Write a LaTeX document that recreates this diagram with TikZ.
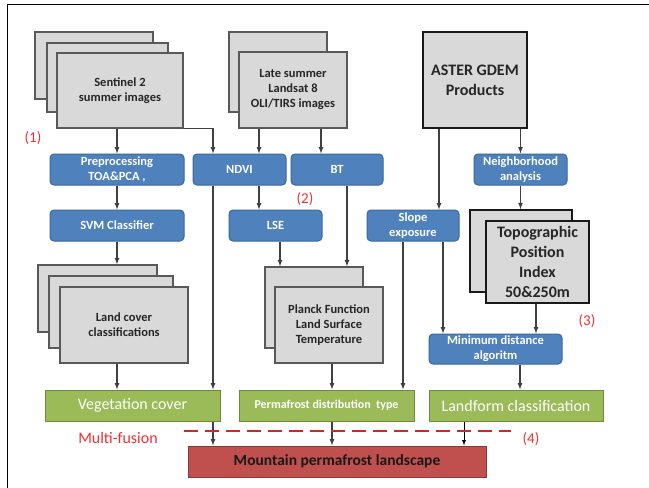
\documentclass[tikz,border=0pt]{standalone}
\usepackage{fontspec}
\setmainfont{Carlito}
\usepackage{xcolor}
\usepackage{tikz}
\usetikzlibrary{arrows}
\definecolor{sheetgray}{HTML}{D9D9D9}
\definecolor{sheetline}{HTML}{595959}
\definecolor{procblue}{HTML}{4F81BD}
\definecolor{procline}{HTML}{3A679C}
\definecolor{resgreen}{HTML}{9BBB59}
\definecolor{resline}{HTML}{71893F}
\definecolor{finalred}{HTML}{C0504D}
\definecolor{finalline}{HTML}{8C3836}
\definecolor{notered}{HTML}{F03030}
\definecolor{arrowgray}{HTML}{404040}

\begin{document}
\begin{tikzpicture}[x=1pt,y=-1pt]
    \tikzstyle{sheet}=[draw=sheetline, fill=sheetgray, line width=1.3pt, inner sep=0pt, align=center, text=black!85, font=\bfseries\fontsize{12.5}{15}\selectfont]
    \tikzstyle{dark sheet}=[sheet, draw=black!90, line width=1.6pt, font=\bfseries\fontsize{16}{20}\selectfont]
    \tikzstyle{proc}=[draw=procline, fill=procblue, line width=1pt, rounded corners=4pt, inner sep=0pt, align=center, text=white, font=\bfseries\fontsize{12.5}{15}\selectfont, minimum height=31]
    \tikzstyle{result}=[draw=resline, fill=resgreen, line width=1pt, inner sep=0pt, align=center, text=white, font=\fontsize{16}{19}\selectfont, minimum width=175, minimum height=31]
    \tikzstyle{final}=[draw=finalline, fill=finalred, line width=1pt, inner sep=0pt, text=black!90, font=\bfseries\fontsize{15.5}{18}\selectfont]
    \tikzstyle{note}=[text=notered, font=\fontsize{15}{18}\selectfont]
    \tikzstyle{arr}=[-latex, draw=arrowgray, line width=1.2pt]
\useasboundingbox (0,0) rectangle (649,488);
\draw[line width=1pt] (7.5,488) -- (7.5,4) -- (649,4);

\node[sheet, minimum width=118, minimum height=67] (sent1) at (94,65.5) {};
\node[sheet, minimum width=121, minimum height=69] (sent2) at (107.5,77.5) {};
\node[sheet, minimum width=126, minimum height=75] (sent3) at (120,90.5) {Sentinel 2\\summer images};

\node[sheet, minimum width=98, minimum height=80] (land1) at (278,72) {};
\node[sheet, minimum width=108, minimum height=76] (land2) at (293,90) {Late summer\\Landsat 8\\OLI/TIRS images};

\node[dark sheet, minimum width=104, minimum height=96] (aster) at (475,80) {ASTER GDEM\\Products};

\node[proc, minimum width=134] (pre) at (117,169.5) {Preprocessing\\TOA\&PCA ,};
\node[proc, minimum width=93] (ndvi) at (239.5,169.5) {NDVI};
\node[proc, minimum width=92] (bt) at (337,169.5) {BT};
\node[proc, minimum width=93] (neigh) at (520.5,169.5) {Neighborhood\\analysis};

\node[proc, minimum width=134] (svm) at (117,225.5) {SVM Classifier};
\node[proc, minimum width=93] (lse) at (275.5,225.5) {LSE};
\node[proc, minimum width=92] (slope) at (413,225.5) {Slope\\exposure};

\node[dark sheet, minimum width=102, minimum height=82] (tpi1) at (521,251) {};
\node[dark sheet, minimum width=103, minimum height=82] (tpi2) at (537.5,262) {Topographic\\Position\\Index\\50\&250m};

\node[sheet, minimum width=119, minimum height=67] (cover1) at (97.5,298.5) {};
\node[sheet, minimum width=124, minimum height=72] (cover2) at (111,312) {};
\node[sheet, minimum width=128, minimum height=76] (cover3) at (124,325) {Land cover\\classifications};

\node[sheet, minimum width=98, minimum height=81] (planck1) at (314,307.5) {};
\node[sheet, minimum width=108, minimum height=76] (planck2) at (329,325) {Planck Function\\Land Surface\\Temperature};

\node[proc, minimum width=133, minimum height=30] (mindist) at (495.5,349) {Minimum distance\\algoritm};

\node[result] (veg) at (132.5,405.5) {Vegetation cover};
\node[result, font=\bfseries\fontsize{12}{15}\selectfont] (pdist) at (326.5,405.5) {Permafrost distribution~ type};
\node[result, minimum width=174] (landform) at (516,405.5) {Landform classification};

\node[final, minimum width=298, minimum height=31] (mpl) at (337,461.5) {Mountain permafrost landscape};

\node[note] (n1) at (33,138) {(1)};
\node[note] (n2) at (305,199) {(2)};
\node[note] (n3) at (587,321) {(3)};
\node[note] (n4) at (531,439) {(4)};
\node[note, font=\fontsize{16}{19}\selectfont] (fusion) at (118,438) {Multi-fusion};

\draw[arr] (pre.north |- sent3.south) -- (pre.north);
\draw[arr] (sent3.south east) -| ([xshift=-26.5pt]ndvi.north);
\draw[arr] ([xshift=19.5pt]ndvi.north |- land2.south) -- ([xshift=19.5pt]ndvi.north);
\draw[arr] ([xshift=-16pt]bt.north |- land2.south) -- ([xshift=-16pt]bt.north);
\draw[arr] (pre) -- (svm);
\draw[arr] (svm.south) -- (svm.south |- cover1.north);
\draw[arr] (svm.south |- cover3.south) -- (svm.south |- veg.north);
\draw[arr] ([xshift=-26.5pt]ndvi.south) -- ([xshift=-26.5pt]ndvi.south |- veg.north);
\draw[arr] ([xshift=19.5pt]ndvi.south) -- ([xshift=19.5pt]ndvi.south |- lse.north);
\draw[arr] ([xshift=4.5pt]lse.south) -- ([xshift=4.5pt]lse.south |- planck1.north);
\draw[arr] ([xshift=10pt]bt.south) -- ([xshift=10pt]bt.south |- planck1.north);
\draw[arr] ([xshift=3pt]planck2.south) -- ([xshift=3pt]planck2.south |- pdist.north);
\draw[arr] ([xshift=-10pt]slope.south) -- ([xshift=-10pt]slope.south |- pdist.north);
\draw[arr] ([xshift=30pt]slope.south) -- ([xshift=30pt]slope.south |- mindist.north);
\draw[arr] ([xshift=-36pt]aster.south) -- ([xshift=-36pt]aster.south |- slope.north);
\draw[arr] (neigh.north |- aster.south) -- (neigh.north);
\draw[arr] (neigh.south) -- (neigh.south |- tpi1.north);
\draw[arr] ([xshift=-1.5pt]tpi2.south) -- ([xshift=-1.5pt]tpi2.south |- mindist.north);
\draw[arr] ([xshift=24.5pt]mindist.south) -- ([xshift=24.5pt]mindist.south |- landform.north);
\draw[arr] ([xshift=80.5pt]veg.south) -- ([xshift=80.5pt]veg.south |- mpl.north);
\draw[arr] ([xshift=3pt]planck2.south |- pdist.south) -- ([xshift=3pt]planck2.south |- mpl.north);
\draw[arr, draw=black, line width=0.9pt] ([xshift=-52pt]landform.south) -- ([xshift=-52pt]landform.south |- mpl.north);

\draw[notered!85!black, line width=1.6pt, dash pattern=on 14pt off 7pt] (184,431) -- (511,431);
\end{tikzpicture}
\end{document}
